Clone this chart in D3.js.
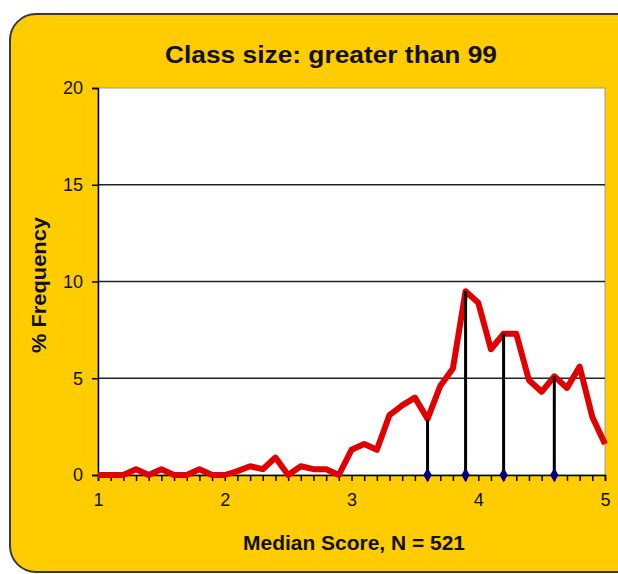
<!DOCTYPE html>
<html><head><meta charset="utf-8">
<script src="https://cdn.jsdelivr.net/npm/d3@7"></script>
<style>body{margin:0;background:#fff}svg{display:block}text{font-family:"Liberation Sans",Arial,sans-serif}</style>
</head><body>
<script>
const scores = [1.0,1.1,1.2,1.3,1.4,1.5,1.6,1.7,1.8,1.9,2.0,2.1,2.2,2.3,2.4,2.5,2.6,2.7,2.8,2.9,3.0,3.1,3.2,3.3,3.4,3.5,3.6,3.7,3.8,3.9,4.0,4.1,4.2,4.3,4.4,4.5,4.6,4.7,4.8,4.9,5.0];
const freq = [0,0,0,0.3,0,0.3,0,0,0.3,0,0,0.2,0.45,0.3,0.9,0,0.45,0.3,0.3,0,1.3,1.6,1.3,3.1,3.6,4.0,2.9,4.6,5.5,9.5,8.9,6.5,7.3,7.3,4.9,4.3,5.1,4.5,5.6,3.0,1.6];
const markerX = [3.6,3.9,4.2,4.6];
const markerY = [2.85,9.5,7.3,5.1];
const yTicks = [0,5,10,15,20];
const xTicks = [1,2,3,4,5];
const title = "Class  size: greater than 99";
const xTitle = "Median Score, N = 521";
const yTitle = "% Frequency";

const W=618,H=574;
const svg=d3.select("body").append("svg").attr("width",W).attr("height",H);
svg.append("rect").attr("x",10).attr("y",14).attr("width",640).attr("height",558).attr("rx",26).attr("ry",26)
  .attr("fill","#FFCC00").attr("stroke","#3a3a3a").attr("stroke-width",2);

const L=98,R=605,T=88,B=475;
const x=d3.scaleLinear().domain([1,5]).range([L,R]);
const y=d3.scaleLinear().domain([0,20]).range([B,T]);

svg.append("rect").attr("x",L).attr("y",T).attr("width",R-L).attr("height",B-T).attr("fill","#fff").attr("stroke","#999").attr("stroke-width",1);

// gridlines
svg.append("g").selectAll("line").data(yTicks.filter(d=>d>0&&d<20)).join("line")
  .attr("x1",L).attr("x2",R).attr("y1",d=>y(d)).attr("y2",d=>y(d)).attr("stroke","#222").attr("stroke-width",1.5);

// y axis
const ya=svg.append("g").attr("transform",`translate(${L},0)`).call(d3.axisLeft(y).tickValues(yTicks).tickSize(6).tickPadding(9));
ya.select(".domain").attr("stroke","#000").attr("stroke-width",1.5);
ya.selectAll(".tick line").attr("stroke","#000").attr("stroke-width",1.5);
ya.selectAll("text").attr("font-size",18).attr("fill","#111").attr("font-family","Liberation Sans, Arial, sans-serif");

// x axis minor ticks
const minor=d3.range(0,41).map(i=>1+i*0.1);
const xa=svg.append("g").attr("transform",`translate(0,${B})`).call(d3.axisBottom(x).tickValues(minor).tickSize(6).tickFormat(""));
xa.select(".domain").attr("stroke","#000").attr("stroke-width",1.5);
xa.selectAll(".tick line").attr("stroke","#000").attr("stroke-width",1.5);
const xl=svg.append("g").attr("transform",`translate(0,${B})`).call(d3.axisBottom(x).tickValues(xTicks).tickSize(0).tickPadding(18).tickFormat(d3.format("d")));
xl.select(".domain").remove();
xl.selectAll("text").attr("font-size",18).attr("fill","#111").attr("font-family","Liberation Sans, Arial, sans-serif");

// line
const pts=scores.map((s,i)=>[s,freq[i]]);
svg.append("path").datum(pts).attr("fill","none").attr("stroke","#E00000").attr("stroke-width",6).attr("stroke-linejoin","round")
  .attr("d",d3.line().x(d=>x(d[0])).y(d=>y(d[1])));

// drop lines
const mk=markerX.map((m,i)=>[m,markerY[i]]);
svg.append("g").selectAll("line").data(mk).join("line")
  .attr("x1",d=>x(d[0])).attr("x2",d=>x(d[0])).attr("y1",y(0)).attr("y2",d=>y(d[1])).attr("stroke","#000").attr("stroke-width",3);
svg.append("g").selectAll("path").data(mk).join("path")
  .attr("transform",d=>`translate(${x(d[0])},${y(0)})`).attr("d",d3.symbol(d3.symbolDiamond,60)).attr("fill","#000080");

// titles
svg.append("text").attr("x",331).attr("y",63).attr("text-anchor","middle").attr("font-size",23).attr("font-weight","bold")
  .attr("fill","#111").attr("textLength",332).attr("lengthAdjust","spacingAndGlyphs").text(title);
svg.append("text").attr("x",354).attr("y",550).attr("text-anchor","middle").attr("font-size",21).attr("font-weight","bold")
  .attr("fill","#111").attr("textLength",222).attr("lengthAdjust","spacingAndGlyphs").text(xTitle);
svg.append("text").attr("transform","translate(46,285) rotate(-90)").attr("text-anchor","middle").attr("font-size",21).attr("font-weight","bold")
  .attr("fill","#111").attr("textLength",136).attr("lengthAdjust","spacingAndGlyphs").text(yTitle);
</script>
</body></html>
